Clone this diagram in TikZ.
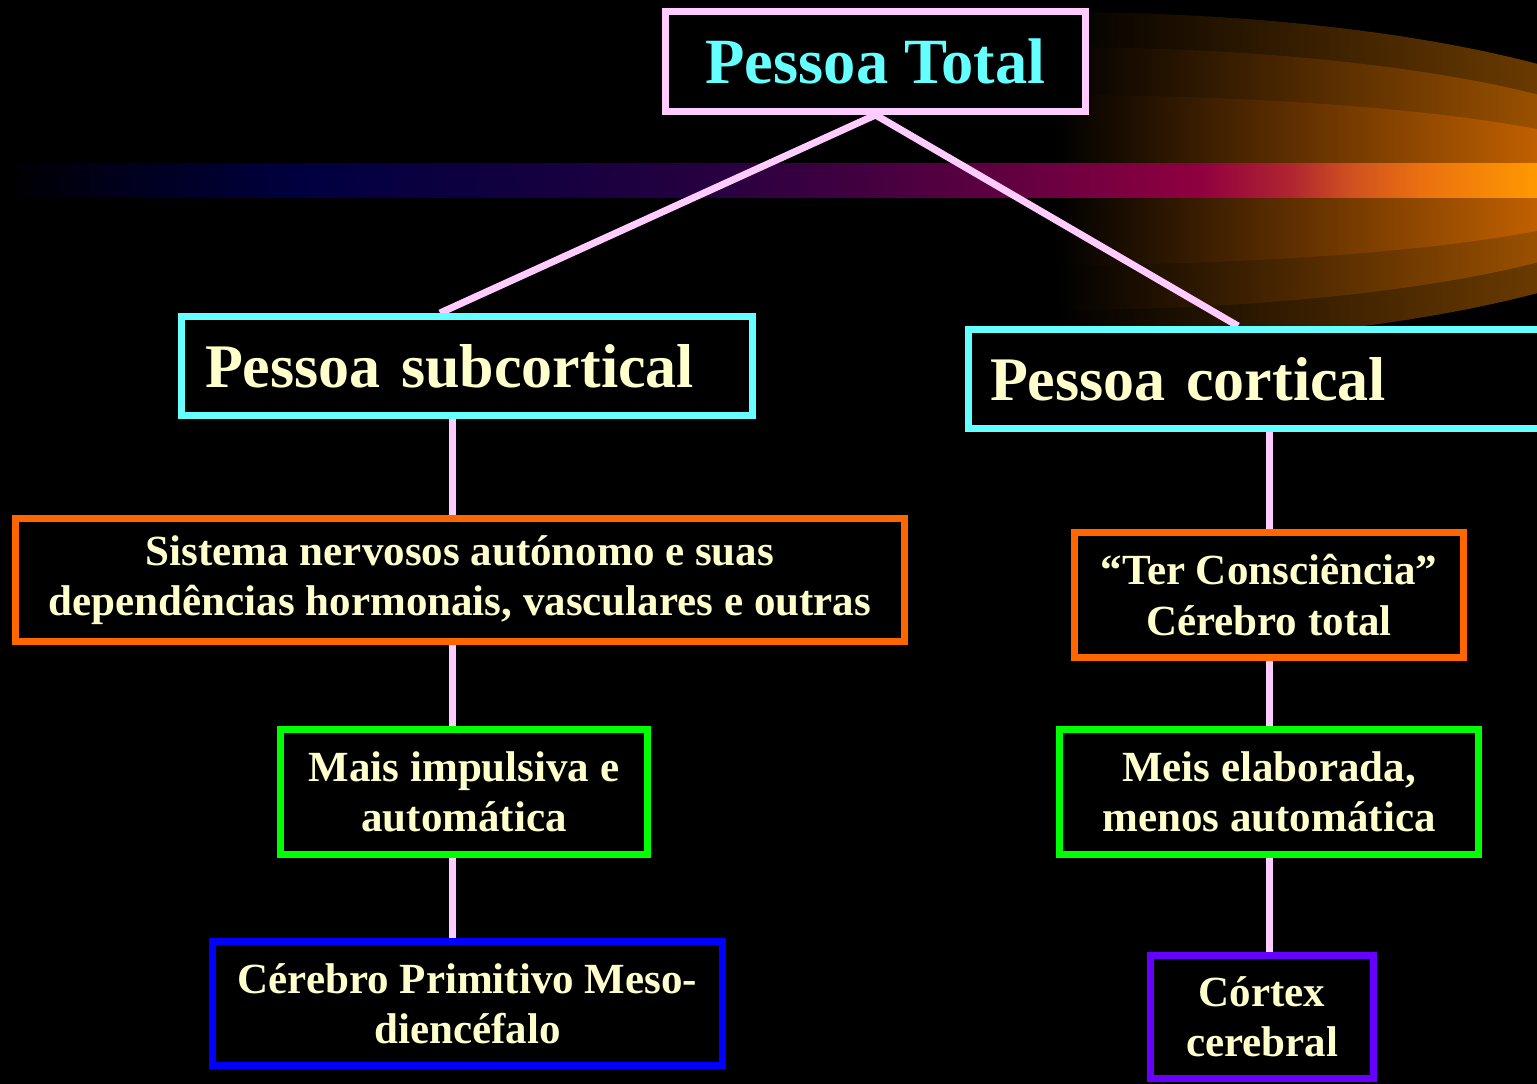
\documentclass[tikz,border=0pt]{standalone}
\usepackage{fontspec}
\setmainfont{Liberation Serif}
\definecolor{pinkc}{HTML}{FFCCFF}
\definecolor{cyanc}{HTML}{66FFFF}
\definecolor{txt}{HTML}{FFFFCC}
\definecolor{orc}{HTML}{FF6600}
\definecolor{grc}{HTML}{00FF00}
\definecolor{blc}{HTML}{0000FF}
\definecolor{vic}{HTML}{6600FF}
\definecolor{b1}{HTML}{000018}
\definecolor{b2}{HTML}{000040}
\definecolor{b3}{HTML}{100040}
\definecolor{b4}{HTML}{250040}
\definecolor{b5}{HTML}{400040}
\definecolor{b6}{HTML}{600040}
\definecolor{b7}{HTML}{900040}
\definecolor{b8}{HTML}{B02530}
\definecolor{b9}{HTML}{D05020}
\definecolor{b10}{HTML}{EA7010}
\definecolor{b11}{HTML}{FF9900}
\definecolor{cA}{HTML}{6A3A00}
\definecolor{cB}{HTML}{9A5000}
\definecolor{cC}{HTML}{C06000}
\pgfdeclarehorizontalshading{bandshade}{100bp}{color(0bp)=(black); color(25bp)=(black); color(28.25bp)=(b1); color(34.76bp)=(b2); color(41.27bp)=(b3); color(47.77bp)=(b4); color(52.65bp)=(b5); color(57.54bp)=(b6); color(64.04bp)=(b7); color(66.97bp)=(b8); color(68.92bp)=(b9); color(71.19bp)=(b10); color(75bp)=(b11); color(100bp)=(b11)}
\pgfdeclarehorizontalshading{cometA}{100bp}{color(0bp)=(black); color(25bp)=(black); color(61.2bp)=(cA); color(100bp)=(cA)}
\pgfdeclarehorizontalshading{cometB}{100bp}{color(0bp)=(black); color(25bp)=(black); color(63.4bp)=(cB); color(100bp)=(cB)}
\pgfdeclarehorizontalshading{cometC}{100bp}{color(0bp)=(black); color(25bp)=(black); color(65bp)=(cC); color(100bp)=(cC)}
\pgfdeclarelayer{back}
\pgfdeclarelayer{mid}
\pgfsetlayers{back,mid,main}
\begin{document}
\begin{tikzpicture}[x=1pt,y=-1pt,
  box/.style={draw,line width=7pt,fill=black,inner sep=0pt,text=txt,
    font=\fontsize{43}{50}\selectfont\bfseries,align=center},
  bigbox/.style={box,font=\fontsize{62}{68}\selectfont\bfseries,align=left,minimum height=99pt},
  link/.style={draw=pinkc,line width=7pt}]
\useasboundingbox (0,0) rectangle (1537,1084);
\begin{pgfonlayer}{back}
\fill[black] (0,0) rectangle (1537,1084);
\begin{scope}
\clip (0,0) rectangle (1537,1084);
\shade[shading=cometA] (1055,12) arc[start angle=-90,end angle=90,x radius=665,y radius=166.5] -- cycle;
\shade[shading=cometB] (1055,47) arc[start angle=-90,end angle=90,x radius=627,y radius=131.5] -- cycle;
\shade[shading=cometC] (1055,95) arc[start angle=-90,end angle=90,x radius=602,y radius=85] -- cycle;
\shade[shading=bandshade] (0,163) rectangle (1537,197);
\end{scope}
\end{pgfonlayer}

\node[box,draw=pinkc,text=cyanc,font=\fontsize{64.5}{70}\selectfont\bfseries,
  minimum width=420pt,minimum height=100pt] (tot) at (875.5,61.5) {Pessoa Total};
\node[bigbox,draw=cyanc,text width=524pt,inner xsep=23.5pt] (sub) at (467,366) {Pessoa subcortical};
\node[bigbox,draw=cyanc,text width=545pt,inner xsep=21.5pt] (cort) at (1262.5,379) {Pessoa cortical};
\node[box,draw=orc,minimum width=889pt,minimum height=123pt] (sis) at (460,580)
  {Sistema nervosos autónomo e suas\\dependências hormonais, vasculares e outras};
\node[box,draw=orc,minimum width=389pt,minimum height=125pt,
  font=\fontsize{43}{51}\selectfont\bfseries] (ter) at (1269,595) {“Ter Consciência”\\Cérebro total};
\node[box,draw=grc,minimum width=367pt,minimum height=125pt] (mai) at (464,792) {Mais impulsiva e\\automática};
\node[box,draw=grc,minimum width=419pt,minimum height=125pt] (mei) at (1269,792) {Meis elaborada,\\menos automática};
\node[box,draw=blc,minimum width=510pt,minimum height=124pt] (cpr) at (467.5,1003.5) {Cérebro Primitivo Meso-\\diencéfalo};
\node[box,draw=vic,minimum width=223pt,minimum height=123pt] (ctx) at (1262,1017) {Córtex\\cerebral};

\coordinate (lx) at (452,0);
\coordinate (rx) at (1269,0);
\begin{pgfonlayer}{mid}
\draw[link] (tot.south) -- ([xshift=-27pt]sub.north);
\draw[link] (tot.south) -- ([xshift=-24.5pt]cort.north);
\draw[link] (sub.south -| lx) -- (sis.north -| lx);
\draw[link] (sis.south -| lx) -- (mai.north -| lx);
\draw[link] (mai.south -| lx) -- (cpr.north -| lx);
\draw[link] (cort.south -| rx) -- (ter.north -| rx);
\draw[link] (ter.south) -- (mei.north);
\draw[link] (mei.south -| rx) -- (ctx.north -| rx);
\end{pgfonlayer}
\end{tikzpicture}
\end{document}
